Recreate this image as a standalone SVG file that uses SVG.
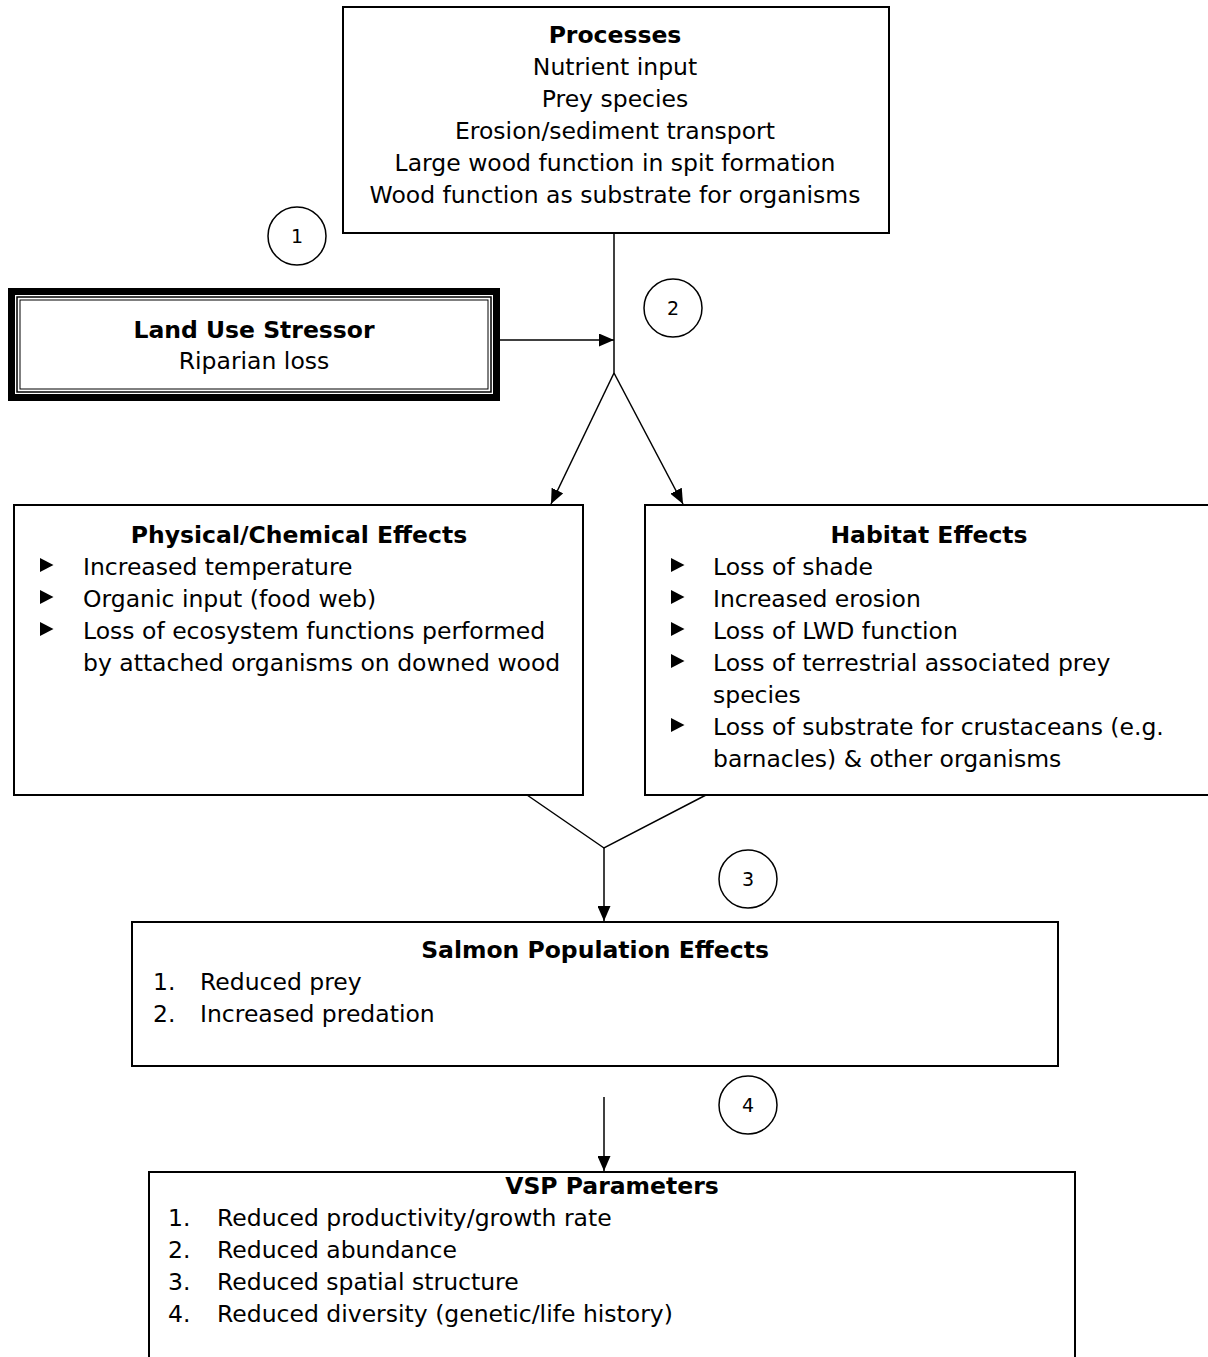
<svg xmlns="http://www.w3.org/2000/svg" width="1208" height="1357" viewBox="0 0 1208 1357">
<defs>
<style>
text{font-family:"DejaVu Sans","Verdana",sans-serif;font-size:23.5px;fill:#000}
.b{font-weight:bold}
.c{text-anchor:middle}
.box{fill:#fff;stroke:#000;stroke-width:2}
.ln{fill:none;stroke:#000;stroke-width:1.5}
.circ{fill:#fff;stroke:#000;stroke-width:1.5}
.num{font-size:19px;text-anchor:middle}
</style>
<marker id="ah" viewBox="0 0 15 13" refX="15" refY="6.5" markerWidth="15" markerHeight="13" markerUnits="userSpaceOnUse" orient="auto">
<path d="M0,0 L15,6.5 L0,13 z" fill="#000"/>
</marker>
<path id="bul" d="M0,-7 L13.5,0 L0,7 z" fill="#000"/>
</defs>
<rect width="1208" height="1357" fill="#fff"/>

<g id="connectors">
<line class="ln" x1="614" y1="233" x2="614" y2="373"/>
<line class="ln" x1="500" y1="340" x2="614" y2="340" marker-end="url(#ah)"/>
<line class="ln" x1="614" y1="373" x2="551" y2="504" marker-end="url(#ah)"/>
<line class="ln" x1="614" y1="373" x2="683" y2="504" marker-end="url(#ah)"/>
<polyline class="ln" points="527,795 604,848 706,795"/>
<line class="ln" x1="604" y1="848" x2="604" y2="921" marker-end="url(#ah)"/>
<line class="ln" x1="604" y1="1097" x2="604" y2="1171" marker-end="url(#ah)"/>
</g>

<g id="circle1"><ellipse class="circ" cx="297" cy="236" rx="29" ry="29"/><text class="num" x="297" y="243">1</text></g>
<g id="circle2"><ellipse class="circ" cx="673" cy="308" rx="29" ry="29"/><text class="num" x="673" y="315">2</text></g>
<g id="circle3"><ellipse class="circ" cx="748" cy="879" rx="29" ry="29"/><text class="num" x="748" y="886">3</text></g>
<g id="circle4"><ellipse class="circ" cx="748" cy="1105" rx="29" ry="29"/><text class="num" x="748" y="1112">4</text></g>

<g id="processes">
<rect class="box" x="343" y="7" width="546" height="226"/>
<text class="b c" x="615" y="43">Processes</text>
<text class="c" x="615" y="75">Nutrient input</text>
<text class="c" x="615" y="107">Prey species</text>
<text class="c" x="615" y="139">Erosion/sediment transport</text>
<text class="c" x="615" y="171">Large wood function in spit formation</text>
<text class="c" x="615" y="203">Wood function as substrate for organisms</text>
</g>

<g id="landuse">
<rect x="11.5" y="291.5" width="485" height="106" fill="#fff" stroke="#000" stroke-width="7"/>
<rect x="17" y="297" width="474" height="95" fill="none" stroke="#000" stroke-width="1.5"/>
<rect x="20" y="300" width="468" height="89" fill="none" stroke="#000" stroke-width="1"/>
<text class="b c" x="254" y="338">Land Use Stressor</text>
<text class="c" x="254" y="369">Riparian loss</text>
</g>

<g id="physical">
<rect class="box" x="14" y="505" width="569" height="290"/>
<text class="b c" x="299" y="543">Physical/Chemical Effects</text>
<use href="#bul" x="40" y="565"/><text x="83" y="575">Increased temperature</text>
<use href="#bul" x="40" y="597"/><text x="83" y="607">Organic input (food web)</text>
<use href="#bul" x="40" y="629"/><text x="83" y="639">Loss of ecosystem functions performed</text>
<text x="83" y="671">by attached organisms on downed wood</text>
</g>

<g id="habitat">
<rect class="box" x="645" y="505" width="570" height="290"/>
<text class="b c" x="929" y="543">Habitat Effects</text>
<use href="#bul" x="671" y="565"/><text x="713" y="575">Loss of shade</text>
<use href="#bul" x="671" y="597"/><text x="713" y="607">Increased erosion</text>
<use href="#bul" x="671" y="629"/><text x="713" y="639">Loss of LWD function</text>
<use href="#bul" x="671" y="661"/><text x="713" y="671">Loss of terrestrial associated prey</text>
<text x="713" y="703">species</text>
<use href="#bul" x="671" y="725"/><text x="713" y="735">Loss of substrate for crustaceans (e.g.</text>
<text x="713" y="767">barnacles) &amp; other organisms</text>
</g>

<g id="salmon">
<rect class="box" x="132" y="922" width="926" height="144"/>
<text class="b c" x="595" y="958">Salmon Population Effects</text>
<text x="153" y="990">1.</text><text x="200" y="990">Reduced prey</text>
<text x="153" y="1022">2.</text><text x="200" y="1022">Increased predation</text>
</g>

<g id="vsp">
<rect class="box" x="149" y="1172" width="926" height="200"/>
<text class="b c" x="612" y="1194">VSP Parameters</text>
<text x="168" y="1226">1.</text><text x="217" y="1226">Reduced productivity/growth rate</text>
<text x="168" y="1258">2.</text><text x="217" y="1258">Reduced abundance</text>
<text x="168" y="1290">3.</text><text x="217" y="1290">Reduced spatial structure</text>
<text x="168" y="1322">4.</text><text x="217" y="1322">Reduced diversity (genetic/life history)</text>
</g>
</svg>
